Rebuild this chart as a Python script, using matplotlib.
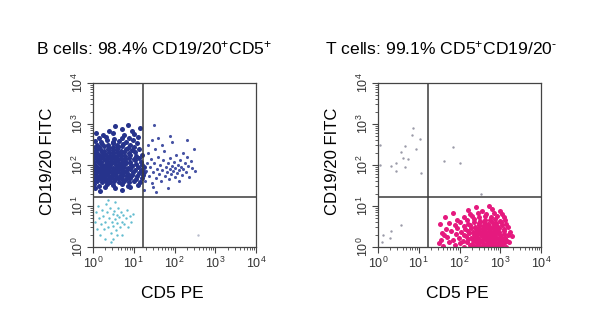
import numpy as np
import matplotlib
matplotlib.use("Agg")
import matplotlib.pyplot as plt
from matplotlib.ticker import LogLocator, LogFormatterSciNotation

plt.rcParams['font.family'] = ['Liberation Sans', 'DejaVu Sans']
plt.rcParams['mathtext.fontset'] = 'custom'
plt.rcParams['mathtext.rm'] = 'Liberation Sans'
plt.rcParams['mathtext.it'] = 'Liberation Sans:italic'
plt.rcParams['mathtext.bf'] = 'Liberation Sans:bold'

# events, in log10 units (x = CD5 PE, y = CD19/20 FITC)
b_core = np.array([
    (0.05,1.44),(0.3,1.47),(0.55,1.43),(0.9,1.46),(0.72,1.38),(0.18,1.36),
    (0.02,1.53),(0.15,1.5),(0.35,1.54),(0.5,1.51),(0.7,1.53),(0.85,1.5),(1.1,1.52),
    (0.0,1.6),(0.1,1.62),(0.22,1.58),(0.33,1.61),(0.41,1.59),(0.52,1.62),(0.63,1.58),(0.75,1.61),(0.88,1.59),(1.0,1.62),(1.15,1.58),
    (0.03,1.66),(0.12,1.68),(0.2,1.65),(0.28,1.69),(0.37,1.66),(0.45,1.68),(0.55,1.65),(0.62,1.69),(0.7,1.67),(0.8,1.65),(0.92,1.68),(1.05,1.66),(1.2,1.69),
    (0.0,1.75),(0.08,1.73),(0.16,1.76),(0.25,1.72),(0.32,1.75),(0.4,1.73),(0.48,1.76),(0.57,1.74),(0.66,1.72),(0.74,1.75),(0.83,1.73),(0.95,1.76),(1.08,1.72),(1.22,1.75),
    (0.04,1.8),(0.11,1.82),(0.19,1.79),(0.27,1.83),(0.35,1.8),(0.43,1.82),(0.51,1.79),(0.6,1.83),(0.68,1.8),(0.77,1.82),(0.86,1.79),(0.98,1.83),(1.12,1.8),(1.25,1.82),
    (0.0,1.87),(0.07,1.89),(0.14,1.86),(0.22,1.9),(0.3,1.87),(0.38,1.89),(0.46,1.86),(0.54,1.9),(0.62,1.87),(0.71,1.89),(0.8,1.86),(0.9,1.9),(1.02,1.87),(1.18,1.89),
    (0.02,1.94),(0.1,1.96),(0.18,1.93),(0.26,1.97),(0.34,1.94),(0.42,1.96),(0.5,1.93),(0.58,1.97),(0.66,1.94),(0.75,1.96),(0.85,1.93),(0.96,1.97),(1.1,1.94),(1.24,1.96),
    (0.0,2.03),(0.06,2.01),(0.14,2.04),(0.23,2.0),(0.31,2.03),(0.39,2.01),(0.47,2.04),(0.56,2.0),(0.64,2.03),(0.73,2.01),(0.82,2.04),(0.93,2.0),(1.06,2.03),(1.2,2.01),
    (0.03,2.08),(0.12,2.1),(0.2,2.07),(0.29,2.11),(0.37,2.08),(0.45,2.1),(0.53,2.07),(0.61,2.11),(0.7,2.08),(0.79,2.1),(0.9,2.07),(1.03,2.11),(1.17,2.08),
    (0.0,2.17),(0.09,2.15),(0.17,2.18),(0.26,2.14),(0.34,2.17),(0.43,2.15),(0.51,2.18),(0.6,2.14),(0.69,2.17),(0.78,2.15),(0.88,2.18),(1.0,2.14),(1.14,2.17),
    (0.05,2.22),(0.14,2.24),(0.23,2.21),(0.32,2.25),(0.41,2.22),(0.5,2.24),(0.59,2.21),(0.68,2.25),(0.78,2.22),(0.9,2.24),(1.05,2.21),(1.2,2.25),
    (0.02,2.31),(0.11,2.29),(0.21,2.32),(0.3,2.28),(0.4,2.31),(0.49,2.29),(0.58,2.32),(0.67,2.28),(0.77,2.31),(0.89,2.29),(1.02,2.32),
    (0.07,2.36),(0.17,2.38),(0.28,2.35),(0.38,2.39),(0.48,2.36),(0.58,2.38),(0.68,2.35),(0.8,2.39),(0.95,2.36),(1.12,2.38),
    (0.04,2.45),(0.15,2.43),(0.27,2.46),(0.39,2.42),(0.5,2.45),(0.61,2.43),(0.72,2.46),(0.86,2.42),(1.0,2.45),
    (0.1,2.5),(0.23,2.52),(0.36,2.49),(0.48,2.53),(0.6,2.5),(0.74,2.52),(0.9,2.49),(1.08,2.53),
    (0.06,2.59),(0.2,2.57),(0.35,2.6),(0.5,2.56),(0.64,2.59),(0.8,2.57),(0.97,2.6),
    (0.15,2.65),(0.33,2.68),(0.52,2.64),(0.7,2.67),(0.88,2.65),(1.1,2.68),
    (0.25,2.74),(0.5,2.77),(0.75,2.73),(1.0,2.76),(0.08,2.78),
    (0.4,2.84),(0.7,2.87),(0.95,2.83),
    (0.55,2.95),(0.85,2.98),(1.15,2.9),
])

b_tail = np.array([
    (1.28,1.62),(1.3,1.85),(1.32,2.05),(1.35,2.3),(1.38,1.72),(1.4,1.95),(1.42,2.15),(1.45,1.55),
    (1.47,1.82),(1.5,2.05),(1.52,2.4),(1.55,1.68),(1.57,1.9),(1.6,2.2),(1.62,1.78),(1.65,2.0),
    (1.67,1.6),(1.7,1.88),(1.72,2.12),(1.75,2.35),(1.77,1.72),(1.8,1.95),(1.82,1.83),(1.84,2.05),
    (1.86,1.65),(1.88,1.9),(1.9,2.18),(1.92,1.78),(1.94,1.98),(1.96,1.86),(1.98,2.08),(2.0,1.7),
    (2.02,1.93),(2.04,2.25),(2.06,1.8),(2.08,2.0),(2.1,1.88),(2.12,1.62),(2.14,2.12),(2.16,1.95),
    (2.18,1.75),(2.2,2.3),(2.22,1.9),(2.25,2.05),(2.28,1.82),(2.3,2.2),(2.33,1.98),(2.36,1.7),
    (2.4,2.1),(2.43,1.92),(2.47,2.4),(2.5,1.85),(1.45,2.6),(1.7,2.5),(1.95,2.55),(2.3,2.6),
    (1.9,2.7),(1.55,1.35),(1.85,1.45),(1.25,1.4),(1.35,2.5),(1.6,2.65),(1.5,2.97),(1.47,1.46),
])

b_neg = np.array([
    (0.05,0.6),(0.08,0.85),(0.1,0.45),(0.12,1.0),(0.15,0.7),(0.18,0.3),(0.2,0.55),(0.22,0.9),
    (0.25,0.75),(0.28,0.45),(0.3,0.62),(0.32,1.05),(0.35,0.85),(0.37,0.5),(0.4,0.7),(0.42,0.95),
    (0.44,0.35),(0.46,0.6),(0.48,0.8),(0.5,0.52),(0.52,0.88),(0.54,0.68),(0.56,0.42),(0.58,0.78),
    (0.6,0.58),(0.62,0.95),(0.64,0.72),(0.66,0.5),(0.68,0.85),(0.7,0.62),(0.72,0.3),(0.74,0.78),
    (0.76,0.55),(0.8,0.7),(0.83,0.9),(0.86,0.5),(0.9,0.75),(0.94,0.6),(0.98,0.8),(0.45,0.12),
    (0.5,0.2),(0.38,1.15),(0.55,1.1),(0.6,0.3),(0.3,0.2),
])
b_stray = np.array([(2.58,0.3)])

t_core = np.array([
    (1.6,0.02),(1.9,0.05),(2.1,0.01),(2.25,0.04),(2.35,0.02),(2.45,0.05),(2.52,0.01),(2.6,0.04),(2.68,0.02),(2.75,0.05),(2.82,0.01),(2.9,0.04),(2.97,0.02),(3.05,0.05),(3.15,0.01),
    (1.75,0.11),(2.0,0.09),(2.18,0.12),(2.3,0.08),(2.4,0.11),(2.48,0.09),(2.56,0.12),(2.64,0.08),(2.71,0.11),(2.79,0.09),(2.86,0.12),(2.94,0.08),(3.02,0.11),(3.1,0.09),(3.22,0.12),
    (1.55,0.16),(1.85,0.18),(2.08,0.15),(2.22,0.19),(2.33,0.16),(2.43,0.18),(2.5,0.15),(2.58,0.19),(2.66,0.16),(2.73,0.18),(2.81,0.15),(2.89,0.19),(2.97,0.16),(3.06,0.18),(3.17,0.15),
    (1.7,0.25),(1.98,0.23),(2.15,0.26),(2.27,0.22),(2.38,0.25),(2.46,0.23),(2.54,0.26),(2.62,0.22),(2.7,0.25),(2.77,0.23),(2.85,0.26),(2.93,0.22),(3.01,0.25),(3.12,0.23),(3.28,0.26),
    (1.62,0.3),(1.92,0.32),(2.1,0.29),(2.24,0.33),(2.35,0.3),(2.44,0.32),(2.52,0.29),(2.6,0.33),(2.68,0.3),(2.76,0.32),(2.84,0.29),(2.92,0.33),(3.0,0.3),(3.1,0.32),(3.2,0.29),
    (1.8,0.39),(2.03,0.37),(2.2,0.4),(2.32,0.36),(2.42,0.39),(2.5,0.37),(2.58,0.4),(2.66,0.36),(2.74,0.39),(2.82,0.37),(2.9,0.4),(2.98,0.36),(3.08,0.39),(3.25,0.37),
    (1.68,0.44),(1.95,0.46),(2.14,0.43),(2.28,0.47),(2.4,0.44),(2.49,0.46),(2.57,0.43),(2.65,0.47),(2.73,0.44),(2.81,0.46),(2.89,0.43),(2.98,0.47),(3.1,0.44),
    (1.88,0.53),(2.1,0.51),(2.26,0.54),(2.38,0.5),(2.48,0.53),(2.57,0.51),(2.66,0.54),(2.75,0.5),(2.84,0.53),(2.93,0.51),(3.04,0.54),(3.18,0.5),
    (1.75,0.58),(2.02,0.6),(2.22,0.57),(2.36,0.61),(2.48,0.58),(2.59,0.6),(2.69,0.57),(2.79,0.61),(2.9,0.58),(3.02,0.6),(3.14,0.57),
    (1.95,0.67),(2.18,0.65),(2.35,0.68),(2.5,0.64),(2.62,0.67),(2.74,0.65),(2.86,0.68),(2.99,0.64),(3.12,0.67),
    (2.1,0.73),(2.3,0.75),(2.48,0.72),(2.63,0.76),(2.78,0.73),(2.93,0.75),(3.08,0.72),
    (1.85,0.83),(2.25,0.81),(2.45,0.84),(2.65,0.8),(2.85,0.83),(3.05,0.81),
    (2.2,0.91),(2.55,0.89),(2.8,0.92),(3.0,0.88),
    (2.4,0.97),(2.72,0.99),
    (1.52,0.55),(1.58,0.35),(1.65,0.72),(1.5,0.1),
])

t_other = np.array([
    (0.83,2.73),(1.03,2.63),(0.66,2.46),(0.56,2.32),(0.93,2.39),(0.61,2.17),(0.73,2.15),(0.44,2.05),
    (0.32,1.98),(0.66,1.95),(0.44,1.85),(1.05,1.8),(0.05,2.5),(0.05,2.0),(0.86,2.9),
    (1.84,2.44),(1.62,2.1),(2.0,2.05),(2.53,1.29),
    (0.56,0.54),(0.32,0.39),(0.12,0.29),(0.29,0.22),(0.1,0.12),
])

titles = ["B cells: 98.4% CD19/20$\\mathregular{^{+}}$CD5$\\mathregular{^{+}}$",
          "T cells: 99.1% CD5$\\mathregular{^{+}}$CD19/20$\\mathregular{^{\\text{-}}}$"]
gate = 1.22

fig = plt.figure(figsize=(5.96, 3.34), dpi=100)
ax1 = fig.add_axes([93/596, 1-247/334, 163/596, 164/334])
ax2 = fig.add_axes([378/596, 1-247/334, 163/596, 164/334])

def dots(ax, pts, color, s, alpha=1.0):
    ax.scatter(10**pts[:, 0], 10**pts[:, 1], s=s, c=color, marker='o',
               linewidths=0, alpha=alpha)

dots(ax1, b_core, '#26338c', 13)
dots(ax1, b_tail, '#33409a', 5, 0.9)
dots(ax1, b_neg, '#62bcd0', 3)
dots(ax1, b_stray, '#b8bccc', 3)

dots(ax2, t_core, '#e5197e', 13)
dots(ax2, t_other, '#9a9aa8', 3)

for ax in (ax1, ax2):
    ax.set_xscale('log')
    ax.set_yscale('log')
    ax.set_xlim(1, 1e4)
    ax.set_ylim(1, 1e4)
    ax.axvline(10**gate, color='#3a3a3a', lw=1.1)
    ax.axhline(10**gate, color='#3a3a3a', lw=1.1)
    for sp in ax.spines.values():
        sp.set_color('#444444')
        sp.set_linewidth(0.9)
    ax.xaxis.set_major_locator(LogLocator(base=10, numticks=6))
    ax.yaxis.set_major_locator(LogLocator(base=10, numticks=6))
    ax.xaxis.set_minor_locator(LogLocator(base=10, subs=np.arange(2, 10), numticks=20))
    ax.yaxis.set_minor_locator(LogLocator(base=10, subs=np.arange(2, 10), numticks=20))
    ax.xaxis.set_major_formatter(LogFormatterSciNotation())
    ax.yaxis.set_major_formatter(LogFormatterSciNotation())
    ax.tick_params(which='major', length=4, width=0.8, color='#444444',
                   labelsize=9, labelcolor='#333333', pad=2,
                   top=False, right=False)
    ax.tick_params(axis='y', which='major', pad=1)
    ax.tick_params(which='minor', length=2, width=0.6, color='#444444',
                   top=False, right=False)
    for lab in ax.get_yticklabels():
        lab.set_rotation(90)
        lab.set_va('center')
    ax.set_xlabel("CD5 PE", fontsize=12.5)
    ax.set_ylabel("CD19/20 FITC", fontsize=12)
    ax.xaxis.set_label_coords(0.485, -0.235)
    ax.yaxis.set_label_coords(-0.235, 0.52)

fig.text(154/596, 1-48/334, titles[0], ha='center', va='center', fontsize=12.6)
fig.text(441/596, 1-48/334, titles[1], ha='center', va='center', fontsize=12.6)

fig.savefig("out.png", dpi=100)
